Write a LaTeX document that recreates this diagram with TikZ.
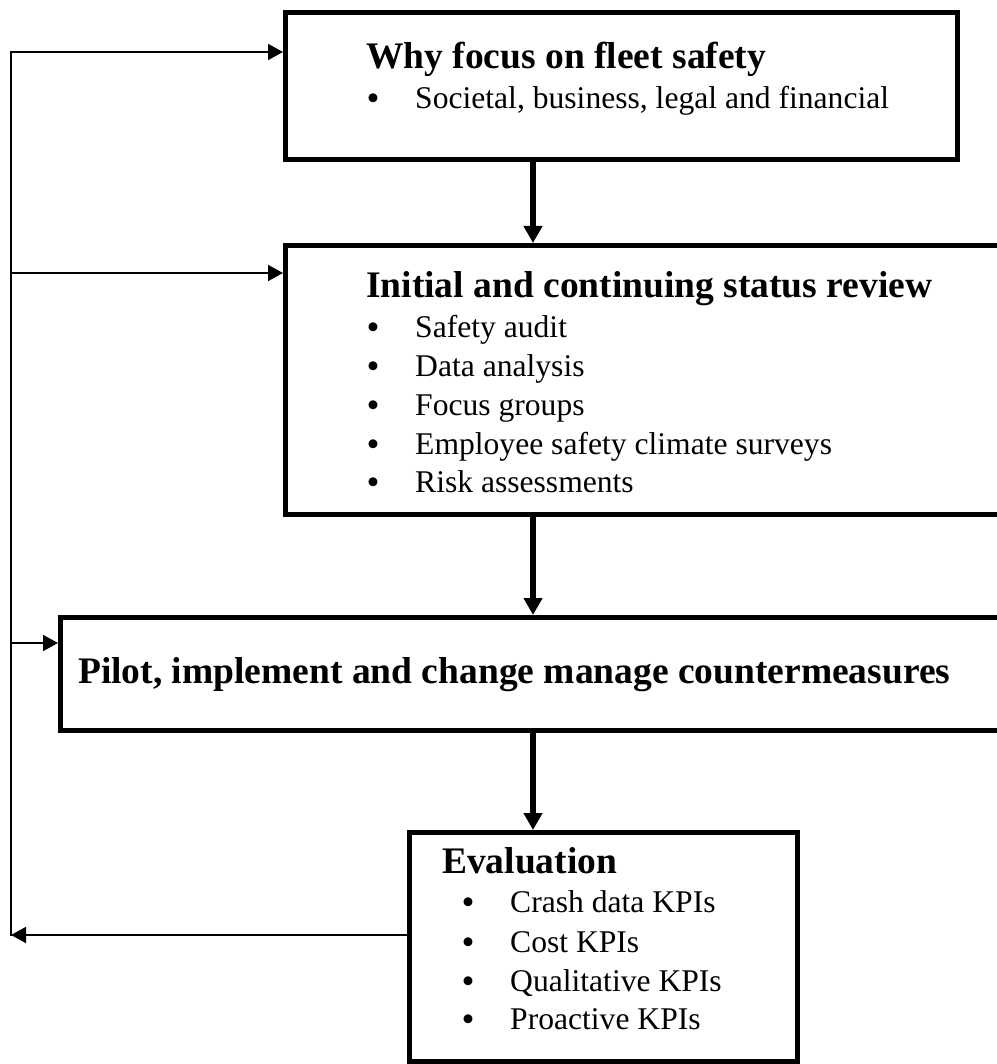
\documentclass[tikz,border=0pt]{standalone}
\usepackage{fontspec}
\setmainfont{Liberation Serif}
\usetikzlibrary{arrows.meta}
\tikzset{
  box/.style={draw, line width=5pt, rectangle, inner sep=0pt},
  title/.style={anchor=base west, inner sep=0pt, font=\fontsize{37.5}{45}\selectfont\bfseries},
  item/.style={anchor=base west, inner sep=0pt, font=\fontsize{31.6}{38}\selectfont},
  bul/.style={anchor=base, inner sep=0pt, font=\fontsize{37}{40}\selectfont, yshift=-2pt},
  thickarrow/.style={line width=5.5pt, -{Triangle[width=18pt,length=17pt]}},
  thinline/.style={line width=1.7pt, line cap=rect},
  thinarrow/.style={line width=1.7pt, -{Triangle[width=16pt,length=15pt]}}
}
\begin{document}
\begin{tikzpicture}[x=1pt,y=-1pt]
\useasboundingbox (0,0) rectangle (996,1064);
% boxes
\node[box, minimum width=672pt, minimum height=147pt] (b1) at (621.5,86) {};
\node[box, minimum width=724.5pt, minimum height=269pt] (b2) at (647.75,380) {};
\node[box, minimum width=949.5pt, minimum height=113pt] (b3) at (535.25,674) {};
\node[box, minimum width=388pt, minimum height=228.5pt] (b4) at (603.5,946.75) {};
% box 1 text
\node[title] (t1) at (366,69) {Why focus on fleet safety};
\node[bul] (t1b1) at (373,109) {•};
\node[item] (t1i1) at (415,109) {Societal, business, legal and financial};
% box 2 text
\node[title] (t2) at (366,298) {Initial and continuing status review};
\node[bul] (t2b1) at (373,337) {•};
\node[item] (t2i1) at (415,337) {Safety audit};
\node[bul] (t2b2) at (373,376) {•};
\node[item] (t2i2) at (415,376) {Data analysis};
\node[bul] (t2b3) at (373,415) {•};
\node[item] (t2i3) at (415,415) {Focus groups};
\node[bul] (t2b4) at (373,454) {•};
\node[item] (t2i4) at (415,454) {Employee safety climate surveys};
\node[bul] (t2b5) at (373,492) {•};
\node[item] (t2i5) at (415,492) {Risk assessments};
% box 3 text
\node[title] (t3) at (78,683) {Pilot, implement and change manage countermeasures};
% box 4 text
\node[title] (t4) at (442,873) {Evaluation};
\node[bul] (t4b1) at (468,912) {•};
\node[item] (t4i1) at (510,912) {Crash data KPIs};
\node[bul] (t4b2) at (468,952) {•};
\node[item] (t4i2) at (510,952) {Cost KPIs};
\node[bul] (t4b3) at (468,991) {•};
\node[item] (t4i3) at (510,991) {Qualitative KPIs};
\node[bul] (t4b4) at (468,1029) {•};
\node[item] (t4i4) at (510,1029) {Proactive KPIs};
% vertical arrows
\coordinate (ax) at (533,0);
\draw[thickarrow] (b1.south -| ax) -- (b2.north -| ax);
\draw[thickarrow] (b2.south -| ax) -- (b3.north -| ax);
\draw[thickarrow] (b3.south -| ax) -- (b4.north -| ax);
% feedback loop
\coordinate (l1) at (11,52);
\coordinate (l2) at (11,273);
\coordinate (l3) at (11,643);
\coordinate (l4) at (11,935);
\draw[thinline] (l1) -- (l4);
\draw[thinarrow] (l1) -- (b1.west |- l1);
\draw[thinarrow] (l2) -- (b2.west |- l2);
\draw[thinarrow] (l3) -- (b3.west |- l3);
\draw[thinarrow] (b4.west |- l4) -- (l4);
\end{tikzpicture}
\end{document}
